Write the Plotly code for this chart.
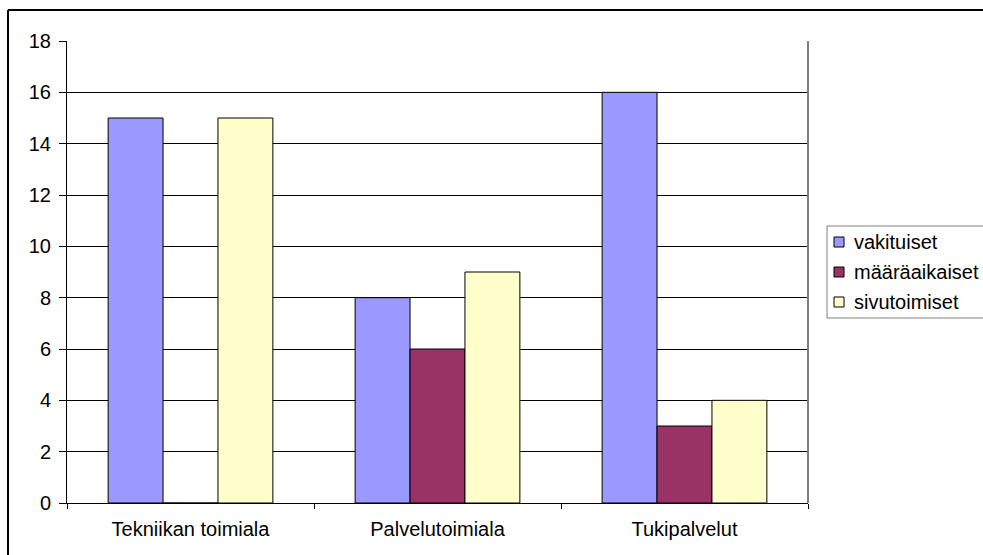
import plotly.graph_objects as go

categories = ["Tekniikan toimiala", "Palvelutoimiala", "Tukipalvelut"]
vakituiset = [15, 8, 16]
maaraaikaiset = [0, 6, 3]
sivutoimiset = [15, 9, 4]

series_names = ["vakituiset", "määräaikaiset", "sivutoimiset"]
series_values = [vakituiset, maaraaikaiset, sivutoimiset]
series_colors = ["#9999FF", "#993366", "#FFFFCC"]

FONT = "Liberation Sans, Arial, sans-serif"
W, H = 983, 555
ML, MR, MT, MB = 67, 175, 41, 52
PW, PH = W - ML - MR, H - MT - MB


def px_x(px):
    """pixel column -> paper x"""
    return (px - ML) / PW


def px_y(py):
    """pixel row -> paper y"""
    return (H - MB - py) / PH


fig = go.Figure()
for name, vals, color in zip(series_names, series_values, series_colors):
    fig.add_trace(go.Bar(
        name=name, x=categories, y=vals,
        marker=dict(color=color, line=dict(color="black", width=1)),
    ))

shapes = [
    # right edge of the plot area
    dict(type="line", xref="paper", yref="paper", x0=1, x1=1, y0=0, y1=1,
         line=dict(color="#808080", width=2)),
    # chart frame (top and left edges)
    dict(type="line", xref="paper", yref="paper",
         x0=px_x(8), x1=px_x(1000), y0=px_y(10), y1=px_y(10),
         line=dict(color="black", width=2)),
    dict(type="line", xref="paper", yref="paper",
         x0=px_x(8), x1=px_x(8), y0=px_y(10), y1=px_y(570),
         line=dict(color="black", width=2)),
    # legend box
    dict(type="rect", xref="paper", yref="paper",
         x0=px_x(827), x1=px_x(1000), y0=px_y(318), y1=px_y(226),
         line=dict(color="#808080", width=1), fillcolor="white"),
]
annotations = []
for i, (name, color) in enumerate(zip(series_names, series_colors)):
    cy = 242 + 30 * i
    shapes.append(dict(
        type="rect", xref="paper", yref="paper",
        x0=px_x(834), x1=px_x(844), y0=px_y(cy + 5), y1=px_y(cy - 5),
        fillcolor=color, line=dict(color="black", width=1),
    ))
    annotations.append(dict(
        x=px_x(852), y=px_y(cy), xref="paper", yref="paper",
        xanchor="left", yanchor="middle", showarrow=False,
        text=name, font=dict(family=FONT, size=20, color="black"),
    ))

fig.update_layout(
    width=W, height=H,
    margin=dict(l=ML, r=MR, t=MT, b=MB),
    paper_bgcolor="white", plot_bgcolor="white",
    barmode="group", bargap=0.333, bargroupgap=0,
    font=dict(family=FONT, size=20, color="black"),
    showlegend=False,
    xaxis=dict(
        showline=True, linecolor="black", linewidth=1,
        ticks="outside", ticklen=5, tickcolor="black",
        tickson="boundaries", showgrid=False,
        ticklabelstandoff=8,
        tickfont=dict(size=20),
    ),
    yaxis=dict(
        range=[0, 18], dtick=2, showline=True, linecolor="black", linewidth=1,
        ticks="outside", ticklen=7, tickcolor="black",
        showgrid=True, gridcolor="black", gridwidth=1,
        zeroline=False, ticklabelstandoff=4,
        tickfont=dict(size=20),
    ),
    shapes=shapes,
    annotations=annotations,
)

fig.write_html("out.html")
